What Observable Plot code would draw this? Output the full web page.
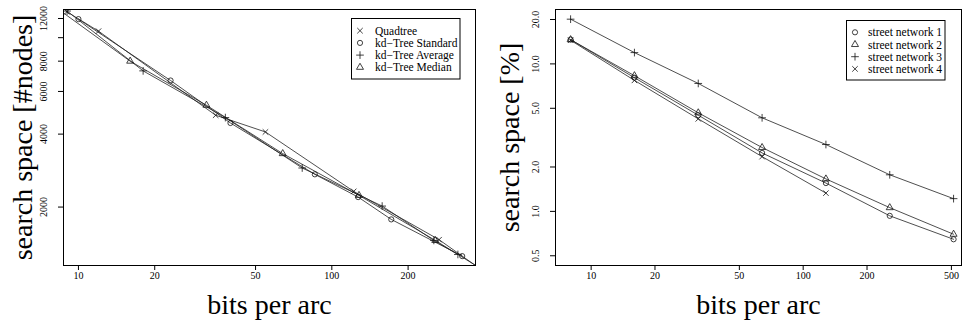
<!DOCTYPE html>
<html><head><meta charset="utf-8">
<script src="https://cdn.jsdelivr.net/npm/d3@7"></script>
<script src="https://cdn.jsdelivr.net/npm/@observablehq/plot@0.6"></script>
<style>
body{margin:0;background:#fff;}
#wrap{position:relative;width:962px;height:323px;display:flex;overflow:hidden;}
#wrap svg{display:block;}
#legend{position:absolute;left:0;top:0;pointer-events:none;}
</style></head><body><div id="wrap"></div>
<script>
// ---------- Left panel data ----------
const leftSeries = ["Quadtree", "kd\u2212Tree Standard", "kd\u2212Tree Average", "kd\u2212Tree Median"];
const leftSymbols = ["times", "circle", "plus", "triangle"];
const quadX = [9.0, 12.0, 34.8, 54.7, 122, 265, 520];
const quadY = [12790, 10640, 4786, 4083, 2322, 1467, 890];
const stdX = [10, 23.1, 39.8, 85.7, 127, 171.6, 327];
const stdY = [11930, 6658, 4446, 2730, 2199, 1779, 1255];
const avgX = [9.02, 18.0, 38.0, 76.4, 158, 252.7, 314.4];
const avgY = [12880, 7295, 4681, 2899, 2019, 1457, 1275];
const medX = [8, 16, 32, 64, 128, 256, 512];
const medY = [13500, 8000, 5263, 3324, 2235, 1457, 930];
const leftXTicks = [10, 20, 50, 100, 200];
const leftXTickLabels = ["10", "20", "50", "100", "200"];
const leftYTicks = [2000, 4000, 6000, 8000, 10000, 12000];
const leftYTickLabels = ["2000", "4000", "6000", "8000", "", "12000"];
const leftXDomain = [8.73, 369];
const leftYDomain = [1148, 13070];
const leftXTitle = "bits per arc";
const leftYTitle = "search space [#nodes]";

// ---------- Right panel data ----------
const rightSeries = ["street network 1", "street network 2", "street network 3", "street network 4"];
const rightSymbols = ["circle", "triangle", "plus", "times"];
const bitsX = [8, 16, 32, 64, 128, 256, 512];
const sn1 = [14.62, 8.06, 4.49, 2.49, 1.556, 0.933, 0.647];
const sn2 = [14.6, 8.32, 4.66, 2.71, 1.66, 1.06, 0.70];
const sn3 = [20.1, 11.93, 7.37, 4.31, 2.84, 1.77, 1.22];
const sn4 = [14.46, 7.73, 4.24, 2.35, 1.33];
const rightXTicks = [10, 20, 50, 100, 200, 500];
const rightXTickLabels = ["10", "20", "50", "100", "200", "500"];
const rightYTicks = [0.5, 1, 2, 5, 10, 20];
const rightYTickLabels = ["0.5", "1.0", "2.0", "5.0", "10.0", "20.0"];
const rightXDomain = [6.79, 558];
const rightYDomain = [0.4296, 23.38];
const rightXTitle = "bits per arc";
const rightYTitle = "search space [%]";

// ---------- build tables ----------
function zip(series, xs, ys) { return ys.map((y, i) => ({series, x: xs[i], y})); }
const leftRows = [
  ...zip(leftSeries[0], quadX, quadY),
  ...zip(leftSeries[1], stdX, stdY),
  ...zip(leftSeries[2], avgX, avgY),
  ...zip(leftSeries[3], medX, medY)
];
const rightRows = [
  ...zip(rightSeries[0], bitsX, sn1),
  ...zip(rightSeries[1], bitsX, sn2),
  ...zip(rightSeries[2], bitsX, sn3),
  ...zip(rightSeries[3], bitsX, sn4)
];
function ticksTable(vals, labels) { return vals.map((v, i) => ({v, label: labels[i]})); }

const FONT = "Liberation Serif, Times New Roman, serif";
const R = 2.6;

function panel(o) {
  const xt = ticksTable(o.xTicks, o.xLabels);
  const yt = ticksTable(o.yTicks, o.yLabels);
  return Plot.plot({
    width: 481, height: 323,
    marginLeft: o.ml, marginRight: o.mr, marginTop: 9, marginBottom: 58,
    style: {fontFamily: FONT, fontSize: "10px", background: "white", color: "#000", overflow: "visible"},
    x: {type: "log", domain: o.xDomain},
    y: {type: "log", domain: o.yDomain},
    symbol: {domain: o.series, range: o.symbols},
    marks: [
      Plot.line(o.rows, {x: "x", y: "y", z: "series", stroke: "#222", strokeWidth: 0.8, clip: true}),
      Plot.dot(o.rows, {x: "x", y: "y", symbol: "series", stroke: "#111", fill: "none", strokeWidth: 0.8, r: R, clip: true}),
      Plot.frame({stroke: "#000", strokeWidth: 1}),
      Plot.axisX(o.xTicks, {tickSize: 5, label: null, tickFormat: () => ""}),
      Plot.axisY(o.yTicks, {tickSize: 5, label: null, tickFormat: () => ""}),
      Plot.text(xt, {x: "v", text: "label", frameAnchor: "bottom", dy: 10, textAnchor: "middle", lineAnchor: "middle", fontSize: 10}),
      Plot.text(yt, {y: "v", text: "label", frameAnchor: "left", dx: -20, rotate: -90, textAnchor: "middle", lineAnchor: "middle", fontSize: 10}),
      Plot.text([o.xTitle], {frameAnchor: "bottom", dy: 40, text: d => d, textAnchor: "middle", lineAnchor: "middle", fontSize: 28}),
      Plot.text([o.yTitle], {frameAnchor: "left", dx: o.ytdx, rotate: -90, text: d => d, textAnchor: "middle", lineAnchor: "middle", fontSize: 28})
    ]
  });
}

const wrap = document.getElementById("wrap");
wrap.appendChild(panel({
  ml: 63, mr: 6, xDomain: leftXDomain, yDomain: leftYDomain,
  series: leftSeries, symbols: leftSymbols, rows: leftRows,
  xTicks: leftXTicks, xLabels: leftXTickLabels, yTicks: leftYTicks, yLabels: leftYTickLabels,
  xTitle: leftXTitle, yTitle: leftYTitle, ytdx: -40
}));
wrap.appendChild(panel({
  ml: 74, mr: 1, xDomain: rightXDomain, yDomain: rightYDomain,
  series: rightSeries, symbols: rightSymbols, rows: rightRows,
  xTicks: rightXTicks, xLabels: rightXTickLabels, yTicks: rightYTicks, yLabels: rightYTickLabels,
  xTitle: rightXTitle, yTitle: rightYTitle, ytdx: -45
}));

// ---------- legends ----------
const symMap = {times: d3.symbolTimes, circle: d3.symbolCircle, plus: d3.symbolPlus, triangle: d3.symbolTriangle};
const legendSvg = d3.select(wrap).append("svg").attr("id", "legend").attr("width", 962).attr("height", 323);
function legend(box, names, symbols) {
  const g = legendSvg.append("g");
  g.append("rect").attr("x", box.x).attr("y", box.y).attr("width", box.w).attr("height", box.h)
    .attr("fill", "white").attr("stroke", "#000").attr("stroke-width", 1);
  names.forEach((n, i) => {
    const cy = box.y0 + i * box.dy;
    g.append("path").attr("transform", `translate(${box.sx},${cy})`)
      .attr("d", d3.symbol(symMap[symbols[i]], Math.PI * R * R)())
      .attr("fill", "none").attr("stroke", "#111").attr("stroke-width", 0.8);
    g.append("text").attr("x", box.tx).attr("y", cy).attr("dy", "0.35em")
      .attr("font-family", FONT).attr("font-size", 11.5).text(n);
  });
}
legend({x: 351.5, y: 18.5, w: 108.5, h: 60.5, sx: 360, tx: 375, y0: 30.7, dy: 12.2}, leftSeries, leftSymbols);
legend({x: 846.5, y: 20.5, w: 98.5, h: 59.5, sx: 855, tx: 868, y0: 32.3, dy: 12.2}, rightSeries, rightSymbols);
</script></body></html>
